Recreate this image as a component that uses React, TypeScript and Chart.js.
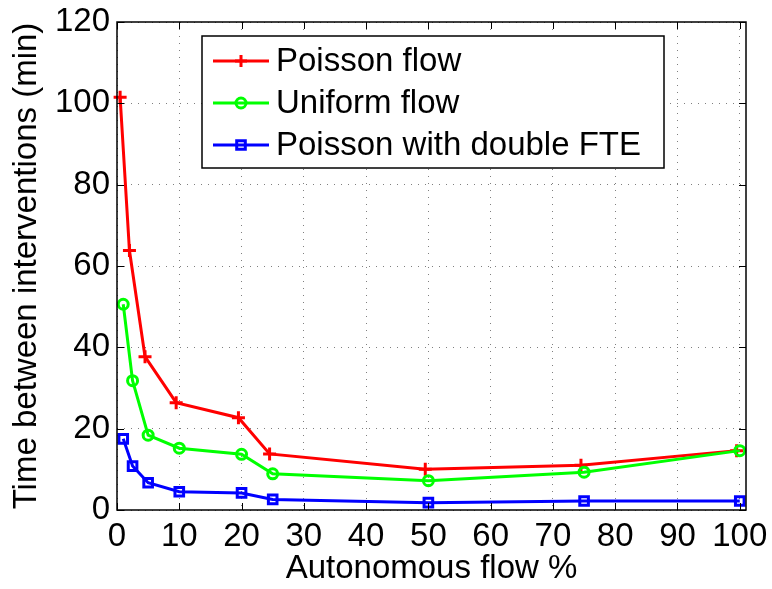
import React, { useEffect, useRef } from "react";
import { Chart, registerables } from "chart.js";

Chart.register(...registerables);

// ---- data ----
const autonomousPct = [1, 2.5, 5, 10, 20, 25, 50, 75, 100];
const autonomousPctPoisson = [0.5, 2, 4.5, 9.5, 19.5, 24.5, 49.5, 74.5, 99.5];
const poissonFlow = [101.5, 63.8, 37.7, 26.4, 22.7, 13.8, 10.0, 11.0, 14.6];
const uniformFlow = [50.6, 31.8, 18.4, 15.2, 13.7, 8.9, 7.2, 9.3, 14.6];
const poissonDoubleFTE = [17.5, 10.8, 6.7, 4.5, 4.2, 2.6, 1.8, 2.2, 2.2];
const seriesNames = ["Poisson flow", "Uniform flow", "Poisson with double FTE"];
const seriesColors = ["#ff0000", "#00ff00", "#0000ff"];
const xTicks = [0, 10, 20, 30, 40, 50, 60, 70, 80, 90, 100];
const yTicks = [0, 20, 40, 60, 80, 100, 120];
const xTitle = "Autonomous flow %";
const yTitle = "Time between interventions (min)";

const FONT = "'Liberation Sans', Arial, Helvetica, sans-serif";

const toPoints = (xs: number[], ys: number[]) => xs.map((x, i) => ({ x, y: ys[i] }));

function drawMarker(ctx: CanvasRenderingContext2D, kind: string, cx: number, cy: number) {
  ctx.beginPath();
  if (kind === "cross") {
    ctx.moveTo(cx - 6, cy);
    ctx.lineTo(cx + 6, cy);
    ctx.moveTo(cx, cy - 6);
    ctx.lineTo(cx, cy + 6);
  } else if (kind === "circle") {
    ctx.arc(cx, cy, 5, 0, Math.PI * 2);
  } else {
    ctx.rect(cx - 4.3, cy - 4.3, 8.6, 8.6);
  }
  ctx.stroke();
}

const matlabFrame = {
  id: "matlabFrame",
  afterDatasetsDraw(chart: any) {
    const { ctx, chartArea } = chart;
    const { left, right, top, bottom } = chartArea;
    const xs = chart.scales.x;
    const ys = chart.scales.y;
    ctx.save();
    ctx.strokeStyle = "#000";
    ctx.lineWidth = 1;
    const tl = 7;
    ctx.beginPath();
    xTicks.forEach((v) => {
      const p = Math.round(xs.getPixelForValue(v)) + 0.5;
      ctx.moveTo(p, bottom);
      ctx.lineTo(p, bottom - tl);
      ctx.moveTo(p, top);
      ctx.lineTo(p, top + tl);
    });
    yTicks.forEach((v) => {
      const p = Math.round(ys.getPixelForValue(v)) + 0.5;
      ctx.moveTo(left, p);
      ctx.lineTo(left + tl, p);
      ctx.moveTo(right, p);
      ctx.lineTo(right - tl, p);
    });
    ctx.stroke();
    ctx.lineWidth = 1.5;
    ctx.strokeRect(left, top, right - left, bottom - top);

    // legend
    const lx = left + 85;
    const ly = top + 14;
    const lw = 462;
    const lh = 132;
    ctx.fillStyle = "#fff";
    ctx.fillRect(lx, ly, lw, lh);
    ctx.lineWidth = 1.5;
    ctx.strokeStyle = "#000";
    ctx.strokeRect(lx, ly, lw, lh);
    const markers = ["cross", "circle", "rect"];
    ctx.font = `33px ${FONT}`;
    ctx.textBaseline = "middle";
    ctx.textAlign = "left";
    seriesNames.forEach((name, i) => {
      const cy = ly + 25 + i * 42;
      ctx.strokeStyle = seriesColors[i];
      ctx.lineWidth = 3;
      ctx.beginPath();
      ctx.moveTo(lx + 11, cy);
      ctx.lineTo(lx + 67, cy);
      ctx.stroke();
      drawMarker(ctx, markers[i], lx + 39, cy);
      ctx.fillStyle = "#000";
      ctx.fillText(name, lx + 74, cy + 1);
    });
    ctx.restore();
  },
};

export default function App() {
  const ref = useRef<HTMLCanvasElement | null>(null);

  useEffect(() => {
    document.body.style.margin = "0";
    const canvas = ref.current;
    if (!canvas) return;
    const tickFont = { family: FONT, size: 33 };
    const zeroPad = (s: any) => {
      s.paddingTop = 0;
      s.paddingBottom = 0;
      s.paddingLeft = 0;
      s.paddingRight = 0;
    };
    const chart = new Chart(canvas, {
      type: "scatter",
      data: {
        datasets: [
          {
            label: seriesNames[0],
            data: toPoints(autonomousPctPoisson, poissonFlow),
            showLine: true,
            borderColor: seriesColors[0],
            backgroundColor: "rgba(0,0,0,0)",
            borderWidth: 3,
            pointStyle: "cross",
            pointRadius: 6.5,
            pointBorderWidth: 3,
            pointBorderColor: seriesColors[0],
            pointBackgroundColor: "rgba(0,0,0,0)",
            clip: false,
            order: 3,
          },
          {
            label: seriesNames[1],
            data: toPoints(autonomousPct, uniformFlow),
            showLine: true,
            borderColor: seriesColors[1],
            backgroundColor: "rgba(0,0,0,0)",
            borderWidth: 3,
            pointStyle: "circle",
            pointRadius: 5,
            pointBorderWidth: 3,
            pointBorderColor: seriesColors[1],
            pointBackgroundColor: "rgba(0,0,0,0)",
            clip: false,
            order: 2,
          },
          {
            label: seriesNames[2],
            data: toPoints(autonomousPct, poissonDoubleFTE),
            showLine: true,
            borderColor: seriesColors[2],
            backgroundColor: "rgba(0,0,0,0)",
            borderWidth: 3,
            pointStyle: "rect",
            pointRadius: 6.1,
            pointBorderWidth: 3,
            pointBorderColor: seriesColors[2],
            pointBackgroundColor: "rgba(0,0,0,0)",
            clip: false,
            order: 1,
          },
        ],
      },
      options: {
        animation: false,
        responsive: false,
        maintainAspectRatio: false,
        layout: { padding: { left: 0, top: 22, right: 26, bottom: 0 } },
        plugins: {
          legend: { display: false },
          tooltip: { enabled: false },
        },
        scales: {
          x: {
            type: "linear",
            min: 0,
            max: 101,
            afterFit: (s: any) => {
              s.height = 79;
              zeroPad(s);
            },
            afterBuildTicks: (s: any) => {
              s.ticks = xTicks.map((v) => ({ value: v }));
            },
            ticks: {
              font: tickFont,
              color: "#000",
              padding: 7,
              maxRotation: 0,
              autoSkip: false,
              includeBounds: false,
            },
            grid: {
              color: "rgba(0,0,0,0.5)",
              lineWidth: 1,
              drawTicks: false,
            },
            border: { display: false, dash: [1, 6] },
            title: {
              display: true,
              text: xTitle,
              font: { family: FONT, size: 33 },
              color: "#000",
              padding: { top: 0, bottom: 0 },
            },
          },
          y: {
            type: "linear",
            min: 0,
            max: 120,
            afterFit: (s: any) => {
              s.width = 117;
              zeroPad(s);
            },
            afterBuildTicks: (s: any) => {
              s.ticks = yTicks.map((v) => ({ value: v }));
            },
            ticks: {
              font: tickFont,
              color: "#000",
              padding: 7,
              autoSkip: false,
              includeBounds: false,
            },
            grid: {
              color: "rgba(0,0,0,0.5)",
              lineWidth: 1,
              drawTicks: false,
            },
            border: { display: false, dash: [1, 6] },
            title: {
              display: true,
              text: yTitle,
              font: { family: FONT, size: 33 },
              color: "#000",
              padding: { top: 7, bottom: 0 },
            },
          },
        },
      },
      plugins: [matlabFrame],
    } as any);
    return () => chart.destroy();
  }, []);

  return (
    <div style={{ width: 772, height: 589, background: "#fff" }}>
      <canvas ref={ref} width={772} height={589} style={{ display: "block" }} />
    </div>
  );
}
